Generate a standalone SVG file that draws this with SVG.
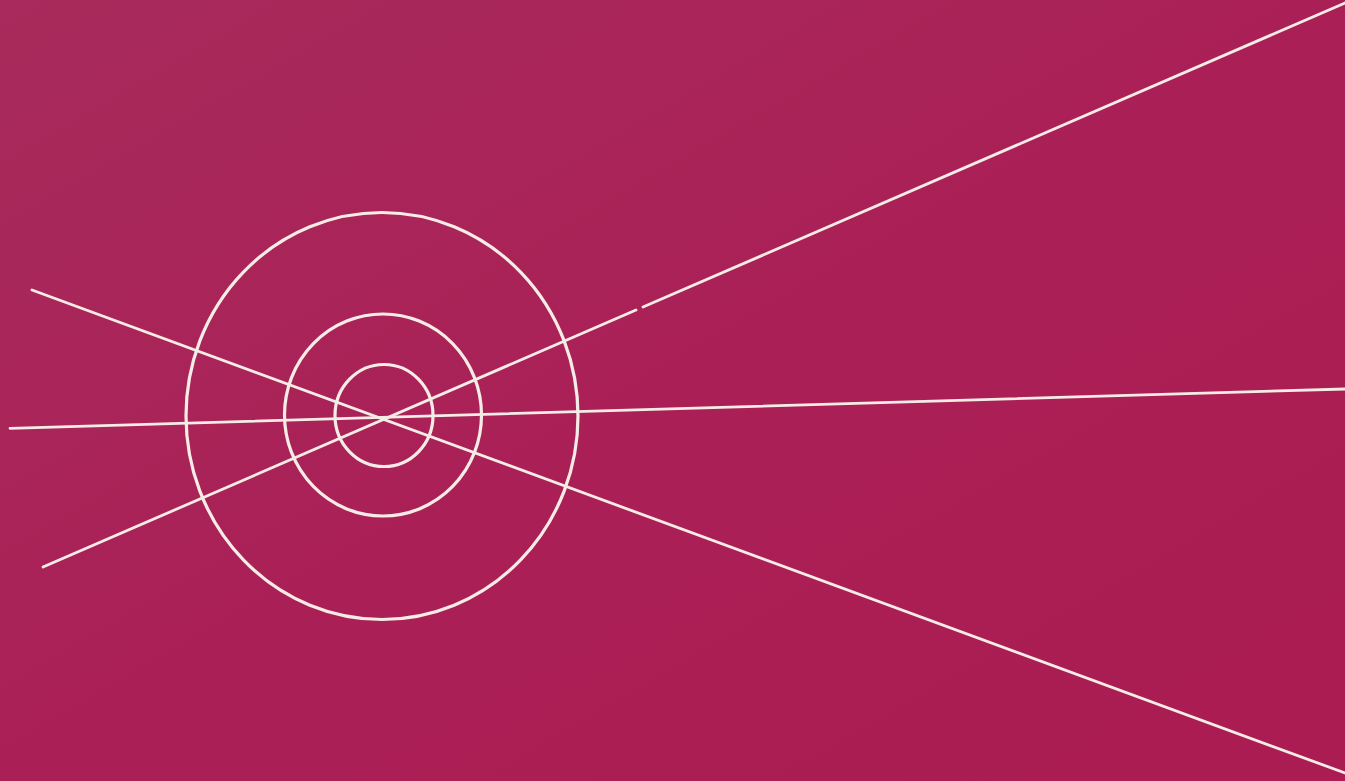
<svg xmlns="http://www.w3.org/2000/svg" width="1345" height="781" viewBox="0 0 1345 781">
  <defs>
    <style>
      .ln { fill: none; stroke: #F6ECE6; stroke-linecap: round; }
    </style>
    <linearGradient id="bg" x1="0" y1="0" x2="1" y2="1">
      <stop offset="0" stop-color="#A82B5C"/>
      <stop offset="0.5" stop-color="#AA2056"/>
      <stop offset="1" stop-color="#AA1C52"/>
    </linearGradient>
  </defs>
  <rect width="1345" height="781" fill="url(#bg)"/>
  <g id="circles">
    <ellipse class="ln" cx="382" cy="416" rx="196" ry="203.5" stroke-width="3.2"/>
    <ellipse class="ln" cx="383" cy="415" rx="98.5" ry="101" stroke-width="3.2"/>
    <ellipse class="ln" cx="384" cy="415.5" rx="49" ry="51" stroke-width="3.2"/>
  </g>
  <g id="lines">
    <line class="ln" x1="32" y1="290" x2="1345" y2="773" stroke-width="2.8"/>
    <path class="ln" d="M43 567 L636 310 M643 307 L1345 3" stroke-width="2.8"/>
    <line class="ln" x1="10" y1="428.3" x2="1345" y2="389" stroke-width="2.8"/>
  </g>
</svg>
